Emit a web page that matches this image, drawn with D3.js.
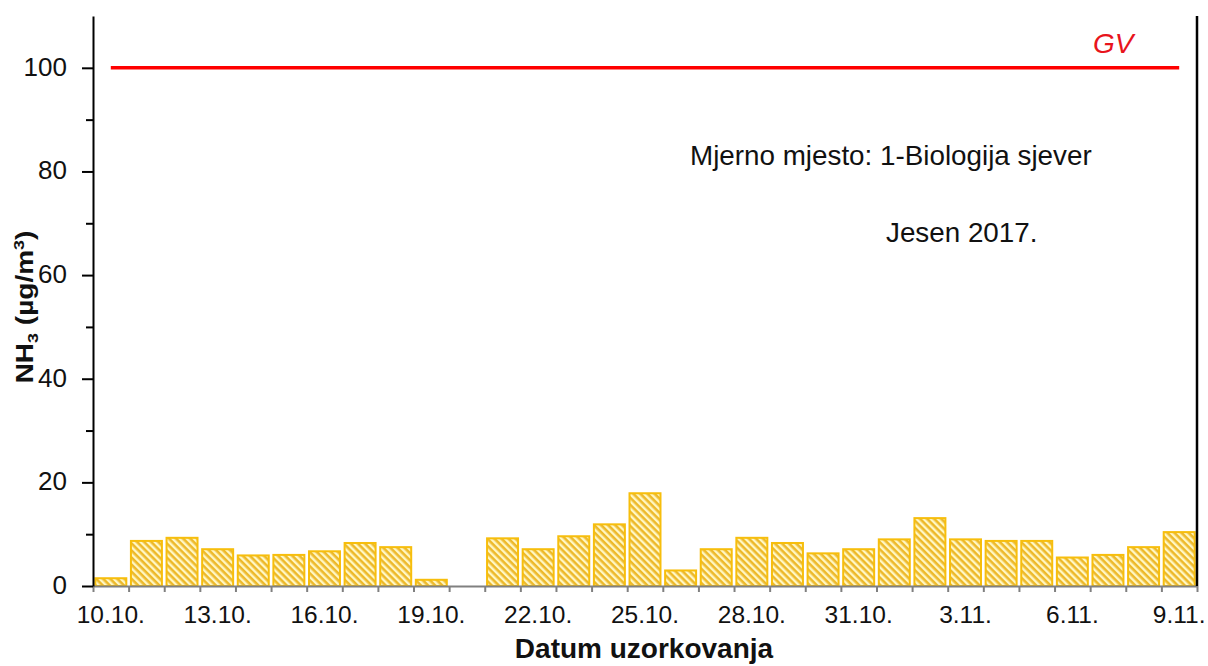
<!DOCTYPE html>
<html>
<head>
<meta charset="utf-8">
<script src="https://cdn.jsdelivr.net/npm/d3@7"></script>
<style>
  body { margin: 0; background: #fff; }
  svg { display: block; font-family: "Liberation Sans", Arial, sans-serif; }
</style>
</head>
<body>
<svg id="chart" width="1208" height="666"></svg>
<script>
// ---- data ----
const dates = ["10.10.","11.10.","12.10.","13.10.","14.10.","15.10.","16.10.","17.10.","18.10.","19.10.",
  "20.10.","21.10.","22.10.","23.10.","24.10.","25.10.","26.10.","27.10.","28.10.","29.10.","30.10.","31.10.",
  "1.11.","2.11.","3.11.","4.11.","5.11.","6.11.","7.11.","8.11.","9.11."];
const nh3 = [1.5, 8.7, 9.3, 7.1, 5.9, 6.0, 6.7, 8.3, 7.5, 1.2,
  null, 9.2, 7.1, 9.6, 11.9, 17.9, 3.0, 7.1, 9.3, 8.3, 6.3, 7.1,
  9.0, 13.1, 9.0, 8.7, 8.7, 5.5, 6.0, 7.5, 10.4];
const xTickLabels = ["10.10.","13.10.","16.10.","19.10.","22.10.","25.10.","28.10.","31.10.","3.11.","6.11.","9.11."];
const yMajorTicks = [0, 20, 40, 60, 80, 100];
const yMinorTicks = [10, 30, 50, 70, 90];
const limitValue = 100;
const limitLabel = "GV";
const noteLines = ["Mjerno mjesto: 1-Biologija sjever", "Jesen 2017."];

// ---- layout ----
const svg = d3.select("#chart");
const mLeft = 93, mRight = 1197, mTop = 16, mBottom = 586;

const x = d3.scaleBand().domain(dates).range([mLeft, mRight]).paddingInner(0.13).paddingOuter(0.065);
const xEdge = d3.scaleLinear().domain([0, dates.length]).range([mLeft, mRight]);
const y = d3.scaleLinear().domain([0, 110]).range([mBottom, mTop]);

// hatch pattern
const defs = svg.append("defs");
const pat = defs.append("pattern").attr("id", "hatch").attr("patternUnits", "userSpaceOnUse")
  .attr("width", 5).attr("height", 5).attr("patternTransform", "rotate(-45)");
pat.append("rect").attr("width", 5).attr("height", 5).attr("fill", "#EDB92A");
pat.append("rect").attr("width", 2.4).attr("height", 5).attr("fill", "#FFF7C4");

// bars
svg.append("g").selectAll("rect")
  .data(dates.map((d, i) => ({d, v: nh3[i]})).filter(e => e.v != null))
  .join("rect")
  .attr("x", e => x(e.d))
  .attr("width", x.bandwidth())
  .attr("y", e => y(e.v))
  .attr("height", e => y(0) - y(e.v))
  .attr("fill", "url(#hatch)")
  .attr("stroke", "#F7BE0C")
  .attr("stroke-width", 2);

// x axis (gray) with boundary ticks
const xAxisG = svg.append("g").attr("transform", `translate(0,${mBottom})`)
  .call(d3.axisBottom(xEdge).tickValues(d3.range(dates.length + 1)).tickFormat("").tickSize(6).tickSizeOuter(0));
xAxisG.select(".domain").attr("stroke", "#808080").attr("stroke-width", 2);
xAxisG.selectAll(".tick line").attr("stroke", "#808080").attr("stroke-width", 2);

const xLabG = svg.append("g").attr("transform", `translate(0,${mBottom})`)
  .call(d3.axisBottom(x).tickValues(xTickLabels).tickSize(0).tickPadding(0));
xLabG.select(".domain").remove();
xLabG.selectAll("text").attr("font-size", 24.5).attr("font-family", "Liberation Sans, Arial, sans-serif")
  .attr("fill", "#111").attr("dy", null).attr("y", 37);

// y axis
const yAxisG = svg.append("g").attr("transform", `translate(${mLeft},0)`)
  .call(d3.axisLeft(y).tickValues(yMajorTicks).tickSize(11).tickPadding(15).tickSizeOuter(0));
yAxisG.select(".domain").attr("stroke", "#000").attr("stroke-width", 2);
yAxisG.selectAll(".tick line").attr("stroke", "#000").attr("stroke-width", 2);
yAxisG.selectAll("text").attr("font-size", 26).attr("font-family", "Liberation Sans, Arial, sans-serif")
  .attr("fill", "#111").attr("dy", "0.28em");
const yMinorG = svg.append("g").attr("transform", `translate(${mLeft},0)`)
  .call(d3.axisLeft(y).tickValues(yMinorTicks).tickSize(7).tickFormat("").tickSizeOuter(0));
yMinorG.select(".domain").remove();
yMinorG.selectAll(".tick line").attr("stroke", "#000").attr("stroke-width", 2);

// right frame line
svg.append("line").attr("x1", mRight).attr("x2", mRight).attr("y1", y(110)).attr("y2", mBottom)
  .attr("stroke", "#000").attr("stroke-width", 2.5);

// limit line
svg.append("line")
  .attr("x1", x(dates[0]) + x.bandwidth() / 2)
  .attr("x2", x(dates[dates.length - 1]) + x.bandwidth() / 2)
  .attr("y1", y(limitValue)).attr("y2", y(limitValue))
  .attr("stroke", "#FF0000").attr("stroke-width", 3.5);
svg.append("text").attr("x", 1093).attr("y", 53).attr("font-size", 28).attr("font-style", "italic")
  .attr("fill", "#E8141C").text(limitLabel);

// notes
svg.append("text").attr("x", 690).attr("y", 165).attr("font-size", 27.8).attr("fill", "#111").text(noteLines[0]);
svg.append("text").attr("x", 886).attr("y", 242).attr("font-size", 27.8).attr("fill", "#111").text(noteLines[1]);

// axis titles
svg.append("text").attr("x", 644).attr("y", 658).attr("text-anchor", "middle")
  .attr("font-size", 28).attr("font-weight", "bold").attr("fill", "#111").text("Datum uzorkovanja");

const yl = svg.append("text").attr("transform", "translate(33,307) rotate(-90) scale(1,0.85)")
  .attr("text-anchor", "middle").attr("font-size", 28).attr("font-weight", "bold").attr("fill", "#111");
yl.append("tspan").text("NH");
yl.append("tspan").attr("font-size", 18).attr("dy", 6).text("3");
yl.append("tspan").attr("dy", -6).text(" (µg/m");
yl.append("tspan").attr("font-size", 18).attr("dy", -11).text("3");
yl.append("tspan").attr("dy", 11).text(")");
</script>
</body>
</html>
